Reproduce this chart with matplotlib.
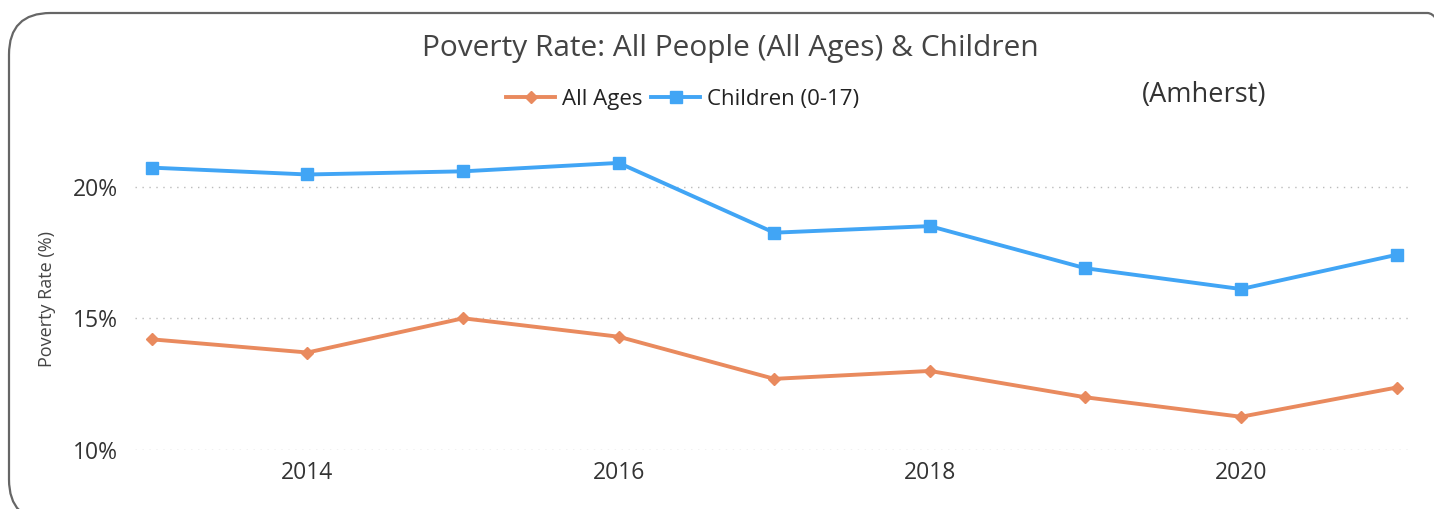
import matplotlib
matplotlib.use("Agg")
import matplotlib.pyplot as plt
from matplotlib.patches import FancyBboxPatch

# data
years = [2013, 2014, 2015, 2016, 2017, 2018, 2019, 2020, 2021]
all_ages = [14.2, 13.7, 15.0, 14.3, 12.7, 13.0, 12.0, 11.26, 12.37]
children = [20.72, 20.46, 20.58, 20.9, 18.25, 18.5, 16.9, 16.11, 17.41]
y_ticks = [10, 15, 20]
x_ticks = [2014, 2016, 2018, 2020]

plt.rcParams['font.family'] = ['Open Sans', 'DejaVu Sans']

fig = plt.figure(figsize=(14.34, 5.09), dpi=100)
ax = fig.add_axes([0.094, 0.116, 0.8886, 0.595])

# rounded border around the whole visual (figure fraction)
border = FancyBboxPatch((9 / 1434, -12 / 509), 1460 / 1434, 508 / 509,
                        boxstyle="round,pad=0,rounding_size=0.029",
                        mutation_aspect=1434 / 509,
                        transform=fig.transFigure, fill=False,
                        edgecolor="#666666", linewidth=1.6)
fig.patches.append(border)

ax.plot(years, all_ages, color="#E98A5E", linewidth=2.8, marker="D", markersize=6,
        label="All Ages")
ax.plot(years, children, color="#41A5F5", linewidth=2.8, marker="s", markersize=9,
        label="Children (0-17)")

ax.set_xlim(2012.89, 2021.08)
ax.set_ylim(10, 21.5)
ax.set_yticks(y_ticks)
ax.set_yticklabels([f"{t}%" for t in y_ticks])
ax.set_xticks(x_ticks)

for s in ax.spines.values():
    s.set_visible(False)
ax.tick_params(length=0, labelsize=16.5, colors="#333333")
ax.tick_params(axis='x', pad=8)
ax.tick_params(axis='y', pad=12)
ax.grid(axis='y', linestyle=(0, (1, 4)), color="#BBBBBB", linewidth=1)
ax.set_axisbelow(True)

ax.set_ylabel("Poverty Rate (%)", fontsize=13, color="#444444", labelpad=12)

fig.text(0.509, 0.904, "Poverty Rate: All People (All Ages) & Children",
         ha="center", va="center", fontsize=21.5, color="#444444")
fig.text(0.840, 0.813, "(Amherst)", ha="center", va="center", fontsize=19.5, color="#333333")

ax.legend(loc="center", bbox_to_anchor=(0.476, 0.805), bbox_transform=fig.transFigure,
          ncol=2, frameon=False, fontsize=16, handlelength=2.2, handletextpad=0.3,
          columnspacing=0.4, labelcolor="#222222")

fig.savefig("out.png", dpi=100)
